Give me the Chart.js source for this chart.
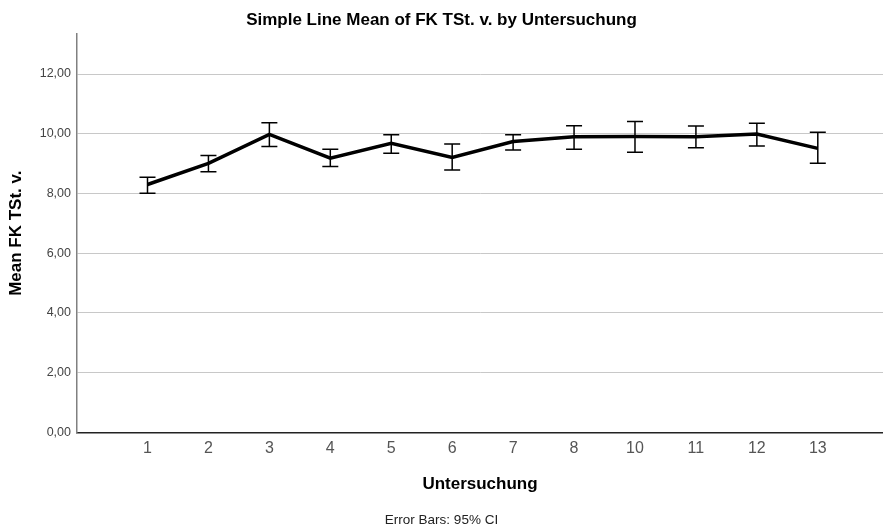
<!DOCTYPE html>
<html>
<head>
<meta charset="utf-8">
<title>Simple Line Mean of FK TSt. v. by Untersuchung</title>
<script src="https://cdn.jsdelivr.net/npm/chart.js@4"></script>
<style>
  html, body { margin: 0; padding: 0; background: #fff; }
  #wrap { width: 883px; height: 528px; }
</style>
</head>
<body>
<div id="wrap"><canvas id="lineChart" width="883" height="528"></canvas></div>
<script>
// Untersuchung categories (9 is missing in the source)
const categories = ['1', '2', '3', '4', '5', '6', '7', '8', '10', '11', '12', '13'];
// Mean FK TSt. v. per Untersuchung
const means  = [8.30, 9.01, 9.98, 9.18, 9.68, 9.21, 9.74, 9.90, 9.91, 9.90, 9.99, 9.51];
// 95% CI bounds
const ciLow  = [8.01, 8.73, 9.57, 8.90, 9.35, 8.79, 9.46, 9.48, 9.38, 9.53, 9.59, 9.01];
const ciHigh = [8.54, 9.27, 10.37, 9.48, 9.97, 9.66, 9.97, 10.27, 10.41, 10.26, 10.35, 10.05];
const yTicks = [0, 2, 4, 6, 8, 10, 12];

const FONT = '"Liberation Sans", Arial, sans-serif';

// draws the CI whiskers using the chart scales
const errorBars = {
    id: 'errorBars',
    beforeDatasetsDraw(c) {
        const ctx = c.ctx;
        const xs = c.scales.x, ys = c.scales.y;
        ctx.save();
        ctx.strokeStyle = '#000';
        ctx.lineWidth = 1.5;
        for (let i = 0; i < means.length; i++) {
            const x = xs.getPixelForValue(i);
            const lo = ys.getPixelForValue(ciLow[i]);
            const hi = ys.getPixelForValue(ciHigh[i]);
            ctx.beginPath();
            ctx.moveTo(x, lo); ctx.lineTo(x, hi);
            ctx.moveTo(x - 8, lo); ctx.lineTo(x + 8, lo);
            ctx.moveTo(x - 8, hi); ctx.lineTo(x + 8, hi);
            ctx.stroke();
        }
        ctx.restore();
    }
};

const ctx = document.getElementById('lineChart').getContext('2d');
const chart = new Chart(ctx, {
    type: 'line',
    data: {
        datasets: [{
            label: 'Mean FK TSt. v.',
            data: means.map((v, i) => ({ x: i, y: v })),
            borderColor: '#000',
            borderWidth: 3.5,
            pointRadius: 0,
            tension: 0,
            fill: false
        }]
    },
    options: {
        responsive: false,
        animation: false,
        devicePixelRatio: 1,
        layout: { padding: { left: 0, right: 0, top: 0, bottom: 0 } },
        plugins: {
            legend: { display: false },
            tooltip: { enabled: false },
            title: {
                display: true,
                text: 'Simple Line Mean of FK TSt. v. by Untersuchung',
                color: '#000',
                font: { family: FONT, size: 17, weight: 'bold' },
                padding: { top: 9.8, bottom: 3.8 }
            },
            subtitle: {
                display: true,
                position: 'bottom',
                text: 'Error Bars: 95% CI',
                color: '#222',
                font: { family: FONT, size: 13.5, weight: 'normal' },
                padding: { top: 6, bottom: 0 }
            }
        },
        scales: {
            x: {
                type: 'linear',
                min: -1.157,
                max: 12.07,
                afterBuildTicks: s => { s.ticks = categories.map((_, i) => ({ value: i })); },
                afterFit: s => { s.height = 73.4; },
                grid: { display: false, drawTicks: false },
                border: { display: true, color: '#222', width: 1.5 },
                ticks: {
                    color: '#555',
                    padding: 6.9,
                    maxRotation: 0,
                    autoSkip: false,
                    font: { family: FONT, size: 16 },
                    callback: v => categories[v]
                },
                title: {
                    display: true,
                    text: 'Untersuchung',
                    color: '#000',
                    font: { family: FONT, size: 17, weight: 'bold' },
                    padding: { top: 0, bottom: 11.2 }
                }
            },
            y: {
                min: 0,
                max: 13.34,
                afterBuildTicks: s => { s.ticks = yTicks.map(v => ({ value: v })); },
                afterFit: s => { s.width = 77; },
                grid: { color: '#c8c8c8', lineWidth: 1, drawTicks: false },
                border: { display: true, color: '#808080', width: 1.5 },
                ticks: {
                    color: '#444',
                    padding: 6,
                    font: { family: FONT, size: 12.5 },
                    callback: v => v.toFixed(2).replace('.', ',')
                },
                title: {
                    display: true,
                    text: 'Mean FK TSt. v.',
                    color: '#000',
                    font: { family: FONT, size: 17, weight: 'bold' },
                    padding: { top: 5.8, bottom: 0 }
                }
            }
        }
    },
    plugins: [errorBars]
});
</script>
</body>
</html>
